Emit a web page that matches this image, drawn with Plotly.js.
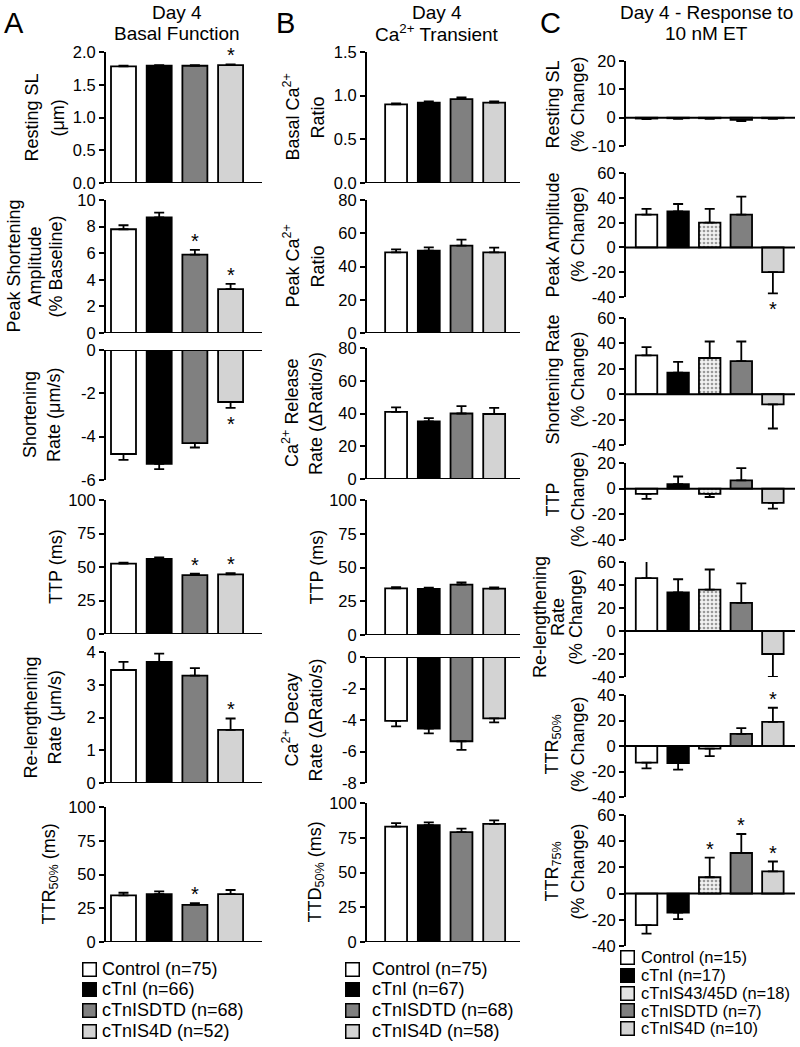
<!DOCTYPE html>
<html><head><meta charset="utf-8">
<script src="https://cdn.plot.ly/plotly-3.0.1.min.js"></script>
<style>html,body{margin:0;padding:0;background:#fff}#chart{width:800px;height:1047px}</style>
</head><body><div id="chart"></div>
<script>
// ---------- DATA ----------
const groupsAB = ['Control', 'cTnI', 'cTnISDTD', 'cTnIS4D'];
const groupsC = ['Control', 'cTnI', 'cTnIS43/45D', 'cTnISDTD', 'cTnIS4D'];
const nA = [75, 66, 68, 52];
const nB = [75, 67, 68, 58];
const nC = [15, 17, 18, 7, 10];

// Panel A: Day 4 basal function
const aRestSL = [1.78, 1.79, 1.79, 1.80], aRestSLErr = [0.01, 0.01, 0.01, 0.01], aRestSLSig = [0, 0, 0, 1];
const aPeakAmp = [7.8, 8.7, 5.9, 3.3], aPeakAmpErr = [0.3, 0.35, 0.35, 0.4], aPeakAmpSig = [0, 0, 1, 1];
const aShortRate = [-4.8, -5.25, -4.3, -2.4], aShortRateErr = [0.27, 0.25, 0.2, 0.27], aShortRateSig = [0, 0, 0, 1];
const aTTP = [52.5, 56, 44, 44.5], aTTPErr = [0.7, 1.2, 1, 1], aTTPSig = [0, 0, 1, 1];
const aRelen = [3.45, 3.7, 3.28, 1.62], aRelenErr = [0.25, 0.25, 0.23, 0.35], aRelenSig = [0, 0, 0, 1];
const aTTR50 = [34.5, 35.5, 27.5, 35.5], aTTR50Err = [2, 2, 1.2, 3], aTTR50Sig = [0, 0, 1, 0];

// Panel B: Day 4 Ca2+ transient
const bBasalCa = [0.90, 0.92, 0.96, 0.92], bBasalCaErr = [0.012, 0.015, 0.02, 0.015];
const bPeakCa = [48.5, 49.5, 52.5, 48.5], bPeakCaErr = [1.8, 2, 3.7, 2.8];
const bRelease = [41, 35.2, 40, 39.7], bReleaseErr = [2.7, 2, 4.5, 3.7];
const bTTP = [34.5, 34.2, 37.3, 34.4], bTTPErr = [1, 0.8, 1.6, 0.8];
const bDecay = [-4.05, -4.55, -5.35, -3.9], bDecayErr = [0.35, 0.3, 0.55, 0.25];
const bTTD50 = [83, 84, 79, 85], bTTD50Err = [2.5, 2, 2.5, 2.5];
const bSig = [0, 0, 0, 0];

// Panel C: Day 4 response to 10 nM ET (% change)
const cRestSL = [-0.3, -0.2, -0.2, -0.8, -0.2], cRestSLErr = [0.2, 0.2, 0.2, 0.4, 0.2], cRestSLSig = [0, 0, 0, 0, 0];
const cPeakAmp = [26.5, 29, 20, 26.5, -20], cPeakAmpErr = [4.5, 6, 11, 14.5, 17], cPeakAmpSig = [0, 0, 0, 0, 1];
const cShortRate = [30.5, 17, 28.5, 26, -8], cShortRateErr = [6.5, 8.5, 13, 15.5, 19], cShortRateSig = [0, 0, 0, 0, 0];
const cTTP = [-4, 3.5, -4, 6.5, -11], cTTPErr = [4, 6, 2.5, 9.5, 4.5], cTTPSig = [0, 0, 0, 0, 0];
const cRelen = [46, 33.5, 36, 24.5, -20], cRelenErr = [15, 11.5, 17.5, 17, 20], cRelenSig = [0, 0, 0, 0, 0];
const cTTR50 = [-13, -13.5, -2, 9.5, 19], cTTR50Err = [4.5, 5, 6, 4.5, 11], cTTR50Sig = [0, 0, 0, 0, 1];
const cTTR75 = [-24, -14.5, 12.5, 31, 17], cTTR75Err = [6.5, 5, 15, 14.5, 7.5], cTTR75Sig = [0, 0, 1, 1, 1];

// ---------- LAYOUT CONFIG ----------
const FONT = 'Liberation Sans, Arial, Helvetica, sans-serif';
const W = 800, H = 1047;
const px = x => x / W;
const py = y => 1 - y / H;

const fillsAB = ['#ffffff', '#000000', '#808080', '#d3d3d3'];
const fillsC = ['#ffffff', '#000000', '#f0f0f0', '#808080', '#d3d3d3'];
const dotPattern = {shape: '.', bgcolor: '#f2f2f2', fgcolor: '#9a9a9a', size: 4, solidity: 0.35};

const panels = {
  A: {x0: 106, x1: 262, range: [-0.49, 3.88], bw: 0.7, fills: fillsAB, groups: groupsAB, n: nA},
  B: {x0: 367, x1: 520, range: [-0.89, 3.79], bw: 0.67, fills: fillsAB, groups: groupsAB, n: nB},
  C: {x0: 626, x1: 795, range: [-0.65, 4.7], bw: 0.68, fills: fillsC, groups: groupsC, n: nC}
};

const subplots = [
  {p: 'A', v: aRestSL, e: aRestSLErr, s: aRestSLSig, r: [0, 2], dt: 0.5, dec: 1, top: 52, bot: 183, title: 'Resting SL<br>(μm)', tx: 45, ls: 26},
  {p: 'A', v: aPeakAmp, e: aPeakAmpErr, s: aPeakAmpSig, r: [0, 10], dt: 2, dec: 0, top: 200, bot: 333, title: 'Peak Shortening<br>Amplitude<br>(% Baseline)', tx: 35, ls: 21},
  {p: 'A', v: aShortRate, e: aShortRateErr, s: aShortRateSig, r: [-6, 0], dt: 2, dec: 0, top: 350, bot: 480, title: 'Shortening<br>Rate (μm/s)', tx: 42, ls: 24},
  {p: 'A', v: aTTP, e: aTTPErr, s: aTTPSig, r: [0, 100], dt: 25, dec: 0, top: 500, bot: 634, title: 'TTP (ms)', tx: 56, ls: 24},
  {p: 'A', v: aRelen, e: aRelenErr, s: aRelenSig, r: [0, 4], dt: 1, dec: 0, top: 652, bot: 783, title: 'Re-lengthening<br>Rate (μm/s)', tx: 42, ls: 24},
  {p: 'A', v: aTTR50, e: aTTR50Err, s: aTTR50Sig, r: [0, 100], dt: 25, dec: 0, top: 807, bot: 942, title: 'TTR<sub>50%</sub> (ms)', tx: 50, ls: 24},

  {p: 'B', v: bBasalCa, e: bBasalCaErr, s: bSig, r: [0, 1.5], dt: 0.5, dec: 1, top: 52, bot: 183, title: 'Basal Ca<sup>2+</sup><br>Ratio', tx: 305, ls: 26},
  {p: 'B', v: bPeakCa, e: bPeakCaErr, s: bSig, r: [0, 80], dt: 20, dec: 0, top: 200, bot: 333, title: 'Peak Ca<sup>2+</sup><br>Ratio', tx: 305, ls: 26},
  {p: 'B', v: bRelease, e: bReleaseErr, s: bSig, r: [0, 80], dt: 20, dec: 0, top: 348, bot: 479, title: 'Ca<sup>2+</sup> Release<br>Rate (ΔRatio/s)', tx: 303, ls: 25},
  {p: 'B', v: bTTP, e: bTTPErr, s: bSig, r: [0, 100], dt: 25, dec: 0, top: 500, bot: 635, title: 'TTP (ms)', tx: 316, ls: 24},
  {p: 'B', v: bDecay, e: bDecayErr, s: bSig, r: [-8, 0], dt: 2, dec: 0, top: 657, bot: 783, title: 'Ca<sup>2+</sup> Decay<br>Rate (ΔRatio/s)', tx: 303, ls: 25},
  {p: 'B', v: bTTD50, e: bTTD50Err, s: bSig, r: [0, 100], dt: 25, dec: 0, top: 803, bot: 942, title: 'TTD<sub>50%</sub> (ms)', tx: 316, ls: 24},

  {p: 'C', v: cRestSL, e: cRestSLErr, s: cRestSLSig, r: [-10, 20], dt: 10, dec: 0, top: 61, bot: 146, title: 'Resting SL<br>(% Change)', tx: 565, ty: 105, ls: 25},
  {p: 'C', v: cPeakAmp, e: cPeakAmpErr, s: cPeakAmpSig, r: [-40, 60], dt: 20, dec: 0, top: 173, bot: 297, title: 'Peak Amplitude<br>(% Change)', tx: 565, ty: 235, ls: 25},
  {p: 'C', v: cShortRate, e: cShortRateErr, s: cShortRateSig, r: [-40, 60], dt: 20, dec: 0, top: 318, bot: 445, title: 'Shortening Rate<br>(% Change)', tx: 565, ty: 380, ls: 25},
  {p: 'C', v: cTTP, e: cTTPErr, s: cTTPSig, r: [-40, 20], dt: 20, dec: 0, top: 463, bot: 540, title: 'TTP<br>(% Change)', tx: 565, ty: 500, ls: 25},
  {p: 'C', v: cRelen, e: cRelenErr, s: cRelenSig, r: [-40, 60], dt: 20, dec: 0, top: 562, bot: 677, title: 'Re-lengthening<br>Rate<br>(% Change)', tx: 558, ty: 617, ls: 18},
  {p: 'C', v: cTTR50, e: cTTR50Err, s: cTTR50Sig, r: [-40, 40], dt: 20, dec: 0, top: 695, bot: 797, title: 'TTR<sub>50%</sub><br>(% Change)', tx: 565, ty: 745, ls: 25},
  {p: 'C', v: cTTR75, e: cTTR75Err, s: cTTR75Sig, r: [-40, 60], dt: 20, dec: 0, top: 815, bot: 946, title: 'TTR<sub>75%</sub><br>(% Change)', tx: 565, ty: 872, ls: 25}
];

// ---------- BUILD ----------
const traces = [];
const layout = {
  width: W, height: H,
  margin: {l: 0, r: 0, t: 0, b: 0},
  paper_bgcolor: '#ffffff', plot_bgcolor: 'rgba(0,0,0,0)',
  font: {family: FONT, size: 17, color: '#000'},
  barmode: 'overlay',
  showlegend: false,
  annotations: [],
  shapes: []
};

subplots.forEach((sp, k) => {
  const idx = k + 1;
  const xid = idx === 1 ? 'x' : 'x' + idx;
  const yid = idx === 1 ? 'y' : 'y' + idx;
  const xkey = idx === 1 ? 'xaxis' : 'xaxis' + idx;
  const ykey = idx === 1 ? 'yaxis' : 'yaxis' + idx;
  const P = panels[sp.p];

  sp.v.forEach((val, i) => {
    const err = sp.e[i];
    const marker = {color: P.fills[i], line: {color: '#000', width: 1.8}};
    if (sp.p === 'C' && i === 2) marker.pattern = dotPattern;
    traces.push({
      type: 'bar', x: [i], y: [val], width: P.bw,
      xaxis: xid, yaxis: yid, marker: marker,
      error_y: {type: 'data', symmetric: false,
        array: [val >= 0 ? err : 0], arrayminus: [val < 0 ? err : 0],
        color: '#000', thickness: 1.8, width: 5},
      hoverinfo: 'skip', showlegend: false, name: P.groups[i]
    });
    if (sp.s[i]) {
      layout.annotations.push({
        xref: xid, yref: yid, x: i, y: val >= 0 ? val + err : val - err,
        text: '*', showarrow: false, font: {size: 20},
        yanchor: val >= 0 ? 'bottom' : 'top', yshift: val >= 0 ? -4 : -3
      });
    }
  });

  const tv = [], tt = [];
  for (let t = sp.r[0]; t <= sp.r[1] + 1e-9; t += sp.dt) {
    tv.push(t);
    tt.push((Math.abs(t) < 1e-9 ? 0 : t).toFixed(sp.dec));
  }

  layout[xkey] = {
    domain: [px(P.x0), px(P.x1)], range: P.range, anchor: yid,
    showline: false, showgrid: false, zeroline: false, showticklabels: false, ticks: '', fixedrange: true
  };
  layout[ykey] = {
    domain: [py(sp.bot), py(sp.top)], range: sp.r, anchor: xid,
    showline: true, linecolor: '#000', linewidth: 2, mirror: false,
    showgrid: false, zeroline: false,
    ticks: 'outside', ticklen: 5, tickwidth: 2, tickcolor: '#000',
    tickmode: 'array', tickvals: tv, ticktext: tt,
    tickfont: {size: 16.5, family: FONT}, fixedrange: true
  };

  layout.shapes.push({
    type: 'line', xref: xid + ' domain', x0: 0, x1: 1, yref: yid, y0: 0, y1: 0,
    line: {color: '#000', width: 2}, layer: 'above'
  });

  // rotated y-axis title, one annotation per line for tight line spacing
  const lines = sp.title.split('<br>');
  const cy = sp.ty !== undefined ? sp.ty : (sp.top + sp.bot) / 2;
  lines.forEach((ln, j) => {
    const lx = sp.tx + (j - (lines.length - 1) / 2) * sp.ls;
    layout.annotations.push({
      xref: 'paper', yref: 'paper', x: px(lx), y: py(cy),
      text: ln, textangle: -90, showarrow: false, font: {size: 18},
      xanchor: 'center', yanchor: 'middle', align: 'center'
    });
  });
});

// Panel headers and letters
const headers = [
  {letter: 'A', lx: 14, lines: ['Day 4', 'Basal Function'], hx: 177},
  {letter: 'B', lx: 285, lines: ['Day 4', 'Ca<sup>2+</sup> Transient'], hx: 437},
  {letter: 'C', lx: 550, lines: ['Day 4 - Response to', '10 nM ET'], hx: 706}
];
headers.forEach(h => {
  layout.annotations.push({xref: 'paper', yref: 'paper', x: px(h.lx), y: py(23), text: h.letter,
    showarrow: false, font: {size: 29}, xanchor: 'center', yanchor: 'middle'});
  h.lines.forEach((ln, j) => {
    layout.annotations.push({xref: 'paper', yref: 'paper', x: px(h.hx), y: py(j === 0 ? 12.5 : 33), text: ln,
      showarrow: false, font: {size: 19}, xanchor: 'center', yanchor: 'middle', align: 'center'});
  });
});

// Legends (swatch + label per group)
const legends = [
  {P: panels.A, sx: 89.5, tx: 100, rows: [969, 989, 1010, 1031], size: 18, dotted: -1},
  {P: panels.B, sx: 352.5, tx: 370, rows: [969, 989, 1010, 1031], size: 18, dotted: -1},
  {P: panels.C, sx: 627.5, tx: 639, rows: [957, 975, 993, 1010.5, 1028], size: 16.5, dotted: 2}
];
legends.forEach(L => {
  L.P.groups.forEach((g, i) => {
    const sw = i === L.dotted ? '#e4e4e4' : L.P.fills[i];
    layout.annotations.push({xref: 'paper', yref: 'paper', x: px(L.sx), y: py(L.rows[i]),
      text: '■', showarrow: false, width: 12, height: 12, borderpad: 0,
      bgcolor: sw, bordercolor: '#000', borderwidth: 1.5,
      xanchor: 'center', yanchor: 'middle', font: {size: 10, color: sw}});
    layout.annotations.push({xref: 'paper', yref: 'paper', x: px(L.tx), y: py(L.rows[i]),
      text: g + ' (n=' + L.P.n[i] + ')', showarrow: false, font: {size: L.size},
      xanchor: 'left', yanchor: 'middle'});
  });
});

Plotly.newPlot('chart', traces, layout, {displayModeBar: false, staticPlot: true});
</script></body></html>
